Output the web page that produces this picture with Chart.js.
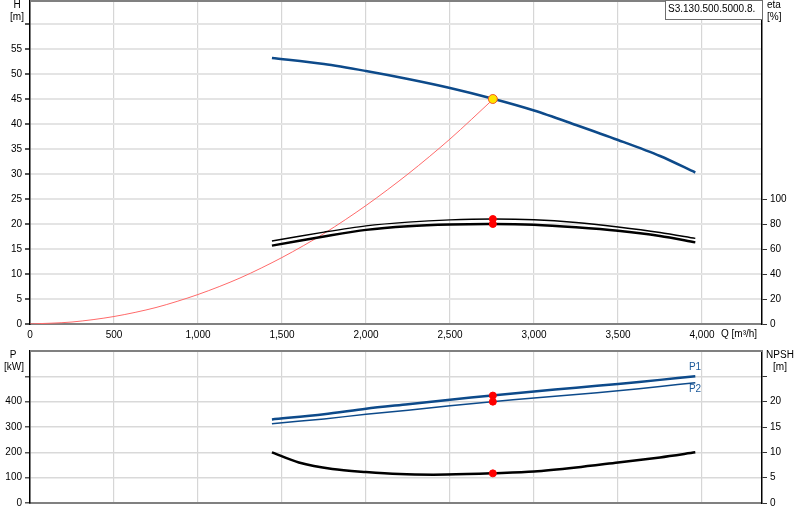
<!DOCTYPE html>
<html lang="en">
<head>
    <meta charset="UTF-8">
    <title>Pump curve S3.130.500.5000.8</title>
    <script src="https://cdn.jsdelivr.net/npm/chart.js"></script>
    <style>
        body { margin: 0; background: #fff; }
        .wrap { position: relative; width: 800px; height: 520px; }
        canvas { position: absolute; left: 0; }
        #topChart { top: 0; }
        #bottomChart { top: 340px; }
    </style>
</head>
<body>
<div class="wrap">
    <canvas id="topChart" width="800" height="345"></canvas>
    <canvas id="bottomChart" width="800" height="180"></canvas>
</div>
<script>
    // flow values (m³/h) for the pump curves
    const qFlow = [1440, 1750, 2000, 2250, 2500, 2750, 3000, 3250, 3500, 3750, 3960];
    const headH = [53.2, 52.0, 50.6, 49.0, 47.2, 45.1, 42.7, 39.8, 36.8, 33.6, 30.3];
    const etaUpper = [66.4, 73.5, 78.5, 81.5, 83.3, 84.0, 83.4, 81.2, 77.6, 73.2, 68.5];
    const etaLower = [62.7, 70.0, 75.3, 78.2, 79.6, 80.0, 79.4, 77.4, 74.6, 70.4, 65.3];
    const powerP1 = [330, 350, 372, 390, 408, 424, 440, 455, 470, 486, 500];
    const powerP2 = [313, 332, 350, 366, 384, 400, 414, 428, 443, 460, 475];

    // NPSH curve
    const qNpsh = [1440, 1600, 1800, 2000, 2200, 2400, 2600, 2750, 3000, 3250, 3500, 3750, 3960];
    const npshValues = [10.0, 8.0, 6.7, 6.1, 5.7, 5.6, 5.7, 5.85, 6.2, 7.0, 8.0, 9.0, 10.0];

    // system curve
    const qSystem = [0, 250, 500, 750, 1000, 1250, 1500, 1750, 2000, 2250, 2500, 2758];
    const headSystem = [0, 0.4, 1.5, 3.3, 5.9, 9.2, 13.3, 18.1, 23.7, 30.0, 37.0, 45.0];

    // duty point
    const dutyQ = 2755;
    const dutyH = 45.0;
    const dutyEta = [84.0, 80.0];
    const dutyP = [424, 400];
    const dutyNpsh = 5.85;

    // axis ranges / ticks
    const qTicks = [0, 500, 1000, 1500, 2000, 2500, 3000, 3500, 4000];
    const qMax = 4357;
    const hMax = 64.6, etaMax = 258.4, etaLabelMax = 100, hLabelMax = 55;
    const pMax = 600, pLabelMax = 400, npshMax = 30, npshLabelMax = 20;
    const modelName = 'S3.130.500.5000.8.';

    const blue = '#0d4a8a';
    const font = '"Liberation Sans", Arial, sans-serif';
    Chart.defaults.font.family = font;
    Chart.defaults.font.size = 10;
    Chart.defaults.color = '#000';

    function pts(xs, ys) {
        return xs.map((x, i) => ({ x: x, y: ys[i] }));
    }

    function redDot(x, y, axis) {
        return {
            data: [{ x: x, y: y }], yAxisID: axis, showLine: false,
            pointRadius: 3.5, pointBackgroundColor: '#ff0000', pointBorderColor: '#ff0000', pointBorderWidth: 1
        };
    }

    function fixSize(w, h) {
        return function (s) {
            if (w !== null) s.width = w;
            if (h !== null) s.height = h;
            s.paddingTop = 0; s.paddingBottom = 0;
            s.paddingLeft = 0; s.paddingRight = 0;
        };
    }

    function setQTicks(s) {
        s.ticks = qTicks.map(v => ({ value: v }));
    }

    // frame + free texts
    const panelPlugin = {
        id: 'panelText',
        afterDraw(chart, args, opts) {
            const ctx = chart.ctx;
            const a = chart.chartArea;
            ctx.save();
            ctx.strokeStyle = '#808080';
            ctx.lineWidth = 2;
            ctx.beginPath();
            ctx.moveTo(a.left, a.top);
            ctx.lineTo(a.right, a.top);
            ctx.stroke();
            (opts.texts || []).forEach(t => {
                ctx.font = '10px ' + font;
                ctx.fillStyle = t.color || '#000';
                ctx.textAlign = t.align || 'center';
                ctx.textBaseline = 'middle';
                ctx.fillText(t.text, t.x, t.y);
            });
            if (opts.box) {
                const b = opts.box;
                ctx.fillStyle = '#fff';
                ctx.fillRect(b.x, b.y, b.w, b.h);
                ctx.strokeStyle = '#6e6e6e';
                ctx.lineWidth = 1;
                ctx.strokeRect(b.x + 0.5, b.y + 0.5, b.w, b.h);
                ctx.beginPath();
                ctx.rect(b.x + 1, b.y, b.w - 1, b.h);
                ctx.clip();
                ctx.font = '10px ' + font;
                ctx.fillStyle = '#000';
                ctx.textAlign = 'left';
                ctx.textBaseline = 'middle';
                ctx.fillText(b.text, b.x + 3, b.y + 9);
            }
            ctx.restore();
        }
    };

    const xGrid = { color: '#d6d6d6', lineWidth: 1.2, drawTicks: false };
    const hGrid = { color: '#e4e4e4', lineWidth: 2, tickColor: '#555', tickLength: 5 };

    new Chart(document.getElementById('topChart'), {
        type: 'line',
        data: {
            datasets: [
                {
                    data: [{ x: dutyQ, y: dutyH }], yAxisID: 'y', showLine: false,
                    pointRadius: 4.5, pointBackgroundColor: '#ffe400', pointBorderColor: '#f05a28', pointBorderWidth: 1
                },
                redDot(dutyQ, dutyEta[0], 'eta'),
                redDot(dutyQ, dutyEta[1], 'eta'),
                { data: pts(qFlow, headH), yAxisID: 'y', borderColor: blue, borderWidth: 2.5, pointRadius: 0, tension: 0.3 },
                { data: pts(qFlow, etaUpper), yAxisID: 'eta', borderColor: '#000', borderWidth: 1.5, pointRadius: 0, tension: 0.3 },
                { data: pts(qFlow, etaLower), yAxisID: 'eta', borderColor: '#000', borderWidth: 2.5, pointRadius: 0, tension: 0.3 },
                { data: pts(qSystem, headSystem), yAxisID: 'y', borderColor: '#ff6a6a', borderWidth: 1, pointRadius: 0, tension: 0.3 }
            ]
        },
        options: {
            responsive: false,
            animation: false,
            devicePixelRatio: 1,
            layout: { autoPadding: false, padding: { top: 1, left: 0, right: 0, bottom: 0 } },
            plugins: {
                legend: { display: false },
                tooltip: { enabled: false },
                panelText: {
                    texts: [
                        { text: 'H', x: 17, y: 5 },
                        { text: '[m]', x: 17, y: 17 },
                        { text: 'eta', x: 767, y: 5, align: 'left' },
                        { text: '[%]', x: 767, y: 17, align: 'left' },
                        { text: 'Q [m\u00b3/h]', x: 721, y: 334, align: 'left' }
                    ],
                    box: { x: 665, y: 0, w: 97, h: 19, text: modelName }
                }
            },
            scales: {
                x: {
                    type: 'linear', min: 0, max: qMax,
                    afterBuildTicks: setQTicks,
                    ticks: { padding: 5, maxRotation: 0, autoSkip: false },
                    grid: xGrid,
                    border: { color: '#808080', width: 2 },
                    afterFit: fixSize(null, 21)
                },
                y: {
                    position: 'left', min: 0, max: hMax,
                    ticks: { stepSize: 5, includeBounds: false, padding: 3,
                        callback: v => (v <= hLabelMax ? v : '') },
                    grid: hGrid,
                    border: { color: '#000', width: 1.5 },
                    afterFit: fixSize(30, null)
                },
                eta: {
                    position: 'right', min: 0, max: etaMax,
                    ticks: { stepSize: 20, includeBounds: false, padding: 3,
                        callback: v => (v <= etaLabelMax ? v : null) },
                    grid: { drawOnChartArea: false, tickColor: '#333', tickLength: 5 },
                    border: { color: '#000', width: 1.5 },
                    afterFit: fixSize(38, null)
                }
            }
        },
        plugins: [panelPlugin]
    });

    new Chart(document.getElementById('bottomChart'), {
        type: 'line',
        data: {
            datasets: [
                redDot(dutyQ, dutyP[0], 'y'),
                redDot(dutyQ, dutyP[1], 'y'),
                redDot(dutyQ, dutyNpsh, 'npsh'),
                { data: pts(qFlow, powerP1), yAxisID: 'y', borderColor: blue, borderWidth: 2.5, pointRadius: 0, tension: 0.3 },
                { data: pts(qFlow, powerP2), yAxisID: 'y', borderColor: blue, borderWidth: 1.5, pointRadius: 0, tension: 0.3 },
                { data: pts(qNpsh, npshValues), yAxisID: 'npsh', borderColor: '#000', borderWidth: 2.5, pointRadius: 0, tension: 0.3 }
            ]
        },
        options: {
            responsive: false,
            animation: false,
            devicePixelRatio: 1,
            layout: { autoPadding: false, padding: { top: 11, left: 0, right: 0, bottom: 0 } },
            plugins: {
                legend: { display: false },
                tooltip: { enabled: false },
                panelText: {
                    texts: [
                        { text: 'P', x: 13, y: 15 },
                        { text: '[kW]', x: 14, y: 27 },
                        { text: 'NPSH', x: 780, y: 15 },
                        { text: '[m]', x: 780, y: 27 },
                        { text: 'P1', x: 695, y: 27, color: '#1d5a9a' },
                        { text: 'P2', x: 695, y: 49, color: '#1d5a9a' }
                    ]
                }
            },
            scales: {
                x: {
                    type: 'linear', min: 0, max: qMax,
                    afterBuildTicks: setQTicks,
                    ticks: { display: false },
                    grid: xGrid,
                    border: { color: '#808080', width: 2 },
                    afterFit: fixSize(null, 17)
                },
                y: {
                    position: 'left', min: 0, max: pMax,
                    ticks: { stepSize: 100, includeBounds: false, padding: 3,
                        callback: v => (v <= pLabelMax ? v : (v < pMax ? '' : null)) },
                    grid: { color: '#d9d9d9', lineWidth: 1.5, tickColor: '#555', tickLength: 5 },
                    border: { color: '#000', width: 1.5 },
                    afterFit: fixSize(30, null)
                },
                npsh: {
                    position: 'right', min: 0, max: npshMax,
                    ticks: { stepSize: 5, includeBounds: false, padding: 3,
                        callback: v => (v <= npshLabelMax ? v : (v < npshMax ? '' : null)) },
                    grid: { drawOnChartArea: false, tickColor: '#333', tickLength: 5 },
                    border: { color: '#000', width: 1.5 },
                    afterFit: fixSize(38, null)
                }
            }
        },
        plugins: [panelPlugin]
    });
</script>
</body>
</html>
